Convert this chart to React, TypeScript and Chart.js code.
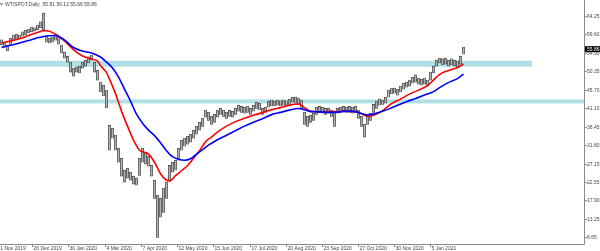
import React, { useEffect, useRef } from "react";
import { Chart, registerables } from "chart.js";

Chart.register(...registerables);

// Price bars (each column = two trading days), low / high
const lows = [
  56.9, 56.4, 55.4, 57.1, 58.1, 58.4, 58.4, 59.1, 59.4, 59.9,
  60.2, 60.4, 60.7, 61.2, 60.7, 57.6, 57.4, 57.6, 58.1, 57.1,
  54.9, 53.6, 52.6, 50.1, 49.1, 50.1, 49.9, 51.1, 51.6, 52.4,
  53.1, 50.1, 48.1, 45.1, 44.1, 41.1, 30.5, 33.5, 30.5, 27.5,
  24.0, 22.5, 23.5, 23.0, 22.0, 21.7, 24.2, 27.5, 27.0, 26.5,
  24.0, 18.4, 8.65, 13.7, 14.9, 18.4, 23.0, 25.0, 25.5, 28.0,
  30.5, 31.5, 32.0, 32.5, 33.5, 34.5, 35.5, 36.5, 38.8, 38.0,
  37.0, 37.5, 38.8, 39.5, 39.0, 38.5, 39.0, 38.8, 39.5, 40.3,
  40.0, 39.8, 40.0, 39.5, 40.3, 41.0, 40.6, 39.5, 40.0, 41.3,
  41.6, 41.6, 41.8, 41.6, 41.8, 41.6, 42.0, 42.6, 42.3, 42.0,
  41.0, 37.0, 36.5, 37.5, 38.0, 39.5, 40.0, 39.8, 39.5, 39.8,
  39.0, 36.5, 39.8, 40.0, 40.3, 40.0, 40.0, 39.8, 40.0, 38.5,
  36.5, 33.8, 37.0, 38.0, 40.0, 41.0, 41.8, 42.0, 42.3, 43.8,
  44.6, 44.8, 44.3, 45.1, 45.8, 46.3, 46.6, 47.3, 47.6, 47.1,
  46.8, 47.1, 46.6, 48.1, 49.9, 51.6, 52.4, 51.9, 52.1, 51.6,
  51.9, 51.6, 51.4, 52.1, 54.6,
];
const highs = [
  58.2, 57.6, 56.9, 58.6, 59.4, 59.6, 59.4, 60.2, 60.6, 60.9,
  61.4, 61.2, 61.9, 62.7, 64.9, 59.2, 58.6, 58.9, 59.4, 59.1,
  56.9, 55.1, 54.1, 52.6, 51.1, 51.4, 51.6, 52.6, 53.1, 53.9,
  54.4, 52.6, 50.6, 47.6, 46.8, 45.6, 36.8, 36.0, 34.3, 31.0,
  28.5, 25.5, 26.0, 25.0, 24.0, 23.5, 28.5, 31.0, 30.0, 29.0,
  26.7, 23.0, 19.2, 18.4, 21.0, 22.5, 26.7, 27.5, 28.0, 31.0,
  33.0, 33.5, 34.0, 34.5, 35.5, 36.5, 37.5, 38.5, 40.6, 40.0,
  39.0, 39.5, 40.6, 41.0, 40.6, 40.0, 40.5, 40.3, 41.0, 41.8,
  41.5, 41.3, 41.6, 41.0, 41.8, 42.5, 42.3, 41.0, 41.3, 42.8,
  43.1, 42.8, 43.1, 42.9, 43.1, 42.9, 43.3, 43.8, 43.8, 43.6,
  43.1, 40.0, 39.0, 39.3, 39.8, 41.3, 41.5, 41.3, 41.0, 41.0,
  40.6, 40.0, 41.0, 41.3, 41.5, 41.3, 41.5, 41.3, 41.5, 40.6,
  39.0, 37.0, 39.0, 39.8, 42.0, 42.8, 43.3, 43.1, 43.8, 45.6,
  46.1, 46.1, 45.8, 46.6, 47.3, 47.6, 48.1, 48.8, 49.4, 48.6,
  48.3, 48.6, 48.1, 50.1, 51.6, 53.1, 53.6, 53.4, 53.6, 53.1,
  53.4, 53.1, 52.9, 54.1, 56.4,
];

// Red (fast) moving average, read at bar indices
const redIdx = [0, 3, 6, 9, 12, 14, 15, 18, 21, 24, 27, 30, 32, 33, 35, 36, 38, 40, 42, 44, 46, 47, 49, 51, 53, 55, 56, 58, 60, 62, 64, 66, 68, 70, 72, 75, 78, 81, 84, 87, 90, 93, 96, 99, 101, 103, 106, 109, 112, 115, 118, 120, 122, 124, 126, 128, 130, 133, 136, 139, 142, 144, 146, 148, 150, 152, 154];
const redMA = [57.39, 57.9, 58.45, 59.28, 60.03, 60.46, 60.46, 59.6, 57.9, 55.76, 54.13, 53.37, 52.87, 51.74, 49.98, 48.35, 44.7, 40.31, 36.54, 33.02, 30.5, 30.13, 29.5, 27.49, 24.6, 22.97, 22.76, 24.1, 25.35, 26.61, 28.49, 30.38, 32.64, 33.77, 35.03, 36.54, 37.67, 38.55, 39.3, 39.93, 40.68, 41.19, 41.81, 42.11, 41.19, 40.31, 40.13, 40.18, 40.23, 40.36, 40.18, 39.68, 39.05, 39.3, 39.93, 40.98, 42.19, 43.32, 44.58, 45.58, 46.71, 48.1, 49.48, 50.23, 50.73, 51.24, 52.12];

// Blue (slow) moving average, read at bar indices
const blueIdx = [0, 3, 6, 9, 12, 15, 18, 20, 22, 24, 27, 30, 33, 35, 37, 39, 41, 43, 45, 47, 49, 51, 53, 55, 57, 59, 61, 63, 65, 67, 69, 72, 75, 78, 81, 84, 87, 90, 93, 96, 99, 101, 103, 106, 109, 112, 115, 118, 120, 122, 124, 126, 129, 132, 135, 138, 141, 144, 146, 148, 150, 152, 154];
const blueMA = [56.31, 56.82, 57.39, 58.02, 58.7, 59.15, 59.28, 58.65, 57.52, 56.26, 55.38, 54.88, 53.88, 52.62, 51.11, 48.85, 45.83, 42.82, 39.55, 37.29, 35.53, 34.15, 32.39, 30.38, 28.87, 28.24, 27.99, 28.37, 29.5, 30.63, 31.76, 33.14, 34.27, 35.41, 36.54, 37.54, 38.42, 39.43, 40.0, 40.56, 40.98, 40.68, 40.18, 40.13, 40.0, 40.05, 40.31, 40.18, 39.73, 39.38, 39.55, 40.05, 40.81, 41.81, 42.69, 43.45, 44.33, 45.21, 46.21, 47.09, 47.84, 48.47, 49.6];

// Horizontal zones (price ranges) and their right end (bar index)
const bandLow = [51.44, 42.24];
const bandHigh = [52.95, 43.25];
const bandEnd = [176.8, 194.2];

// Axis ticks
const yTicks = [64.25, 59.6, 54.95, 50.35, 45.7, 41.1, 36.45, 31.8, 27.15, 22.55, 17.9, 13.25, 8.65];
const xTickIdx = [-1.8, 10.27, 22.33, 34.4, 46.47, 58.53, 70.6, 82.67, 94.73, 106.8, 118.87, 130.93, 143.0];
const xTickLabels = ["21 Nov 2019", "26 Dec 2019", "30 Jan 2020", "4 Mar 2020", "7 Apr 2020", "12 May 2020", "15 Jun 2020", "17 Jul 2020", "20 Aug 2020", "23 Sep 2020", "27 Oct 2020", "30 Nov 2020", "5 Jan 2021"];

const symbolTitle = "WTISPOT,Daily";
const lastOHLC = [55.81, 56.12, 55.66, 55.86];
const lastPrice = 55.86;

const FONT = '5px "Liberation Sans", Arial, sans-serif';

export default function App() {
  const ref = useRef<HTMLCanvasElement>(null);

  useEffect(() => {
    const canvas = ref.current;
    if (!canvas) return;

    const overlay = {
      id: "mtOverlay",
      beforeDatasetsDraw(chart: any) {
        const { ctx, scales, chartArea } = chart;
        const xs = scales.x;
        const ys = scales.y;
        ctx.save();
        ctx.fillStyle = "#b0e0e6";
        for (let i = 0; i < bandLow.length; i++) {
          const x0 = chartArea.left;
          const x1 = Math.min(xs.getPixelForValue(bandEnd[i]), chartArea.right);
          const yTop = ys.getPixelForValue(bandHigh[i]);
          const yBot = ys.getPixelForValue(bandLow[i]);
          ctx.fillRect(x0, yTop, x1 - x0, yBot - yTop);
        }
        ctx.restore();
      },
      afterDraw(chart: any) {
        const { ctx, scales, chartArea } = chart;
        const xs = scales.x;
        const ys = scales.y;
        ctx.save();
        ctx.strokeStyle = "#8a8a8a";
        ctx.lineWidth = 1;
        ctx.beginPath();
        ctx.moveTo(chartArea.right + 0.5, 0);
        ctx.lineTo(chartArea.right + 0.5, chartArea.bottom + 0.5);
        ctx.lineTo(0, chartArea.bottom + 0.5);
        ctx.stroke();

        ctx.font = FONT;
        ctx.fillStyle = "#444";
        ctx.textAlign = "left";
        ctx.textBaseline = "middle";
        for (const v of yTicks) {
          const y = Math.round(ys.getPixelForValue(v)) + 0.5;
          ctx.beginPath();
          ctx.moveTo(chartArea.right, y);
          ctx.lineTo(chartArea.right + 3, y);
          ctx.stroke();
          ctx.fillText(v.toFixed(2), chartArea.right + 3, y);
        }
        for (let i = 0; i < xTickIdx.length; i++) {
          const x = Math.round(xs.getPixelForValue(xTickIdx[i])) + 0.5;
          ctx.beginPath();
          ctx.moveTo(x, chartArea.bottom);
          ctx.lineTo(x, chartArea.bottom + 3);
          ctx.stroke();
          ctx.fillText(xTickLabels[i], x + 1, chartArea.bottom + 4.5);
        }
        const py = ys.getPixelForValue(lastPrice);
        ctx.fillStyle = "#000";
        ctx.fillRect(chartArea.right + 1, py - 3, 16, 6);
        ctx.fillStyle = "#fff";
        ctx.fillText(lastPrice.toFixed(2), chartArea.right + 3, py);

        ctx.fillStyle = "#444";
        ctx.fillText(symbolTitle + "  " + lastOHLC.map((v) => v.toFixed(2)).join(" "), 5, 4.5);
        ctx.fillStyle = "#888";
        ctx.beginPath();
        ctx.moveTo(0, 3);
        ctx.lineTo(3, 3);
        ctx.lineTo(1.5, 6);
        ctx.closePath();
        ctx.fill();
        ctx.restore();
      },
    };

    const chart = new Chart(canvas, {
      type: "bar",
      data: {
        datasets: [
          {
            type: "line",
            label: "slow MA",
            data: blueIdx.map((x, i) => ({ x, y: blueMA[i] })),
            borderColor: "#0000ff",
            borderWidth: 1.6,
            pointRadius: 0,
            cubicInterpolationMode: "monotone",
            order: 1,
          } as any,
          {
            type: "line",
            label: "fast MA",
            data: redIdx.map((x, i) => ({ x, y: redMA[i] })),
            borderColor: "#ff0000",
            borderWidth: 1.6,
            pointRadius: 0,
            cubicInterpolationMode: "monotone",
            order: 2,
          } as any,
          {
            type: "bar",
            label: "WTISPOT",
            data: lows.map((l, i) => ({ x: i, y: [l, highs[i]] })),
            backgroundColor: "#b4b4b4",
            borderColor: "#2e2e2e",
            borderWidth: 0.6,
            borderSkipped: false,
            barThickness: 2.2,
            order: 3,
          } as any,
        ],
      },
      options: {
        responsive: false,
        animation: false,
        devicePixelRatio: 1,
        layout: { padding: { left: 0, right: 16, top: 0, bottom: 7 } },
        plugins: { legend: { display: false }, tooltip: { enabled: false } },
        scales: {
          x: { type: "linear", min: -0.5, max: 194.17, offset: false, display: false },
          y: { type: "linear", min: 6.97, max: 68.19, display: false },
        },
      } as any,
      plugins: [overlay],
    });
    return () => chart.destroy();
  }, []);

  return (
    <div style={{ position: "absolute", left: 0, top: 0, width: 600, height: 251, background: "#fff" }}>
      <canvas ref={ref} width={600} height={251} style={{ display: "block" }} />
    </div>
  );
}
